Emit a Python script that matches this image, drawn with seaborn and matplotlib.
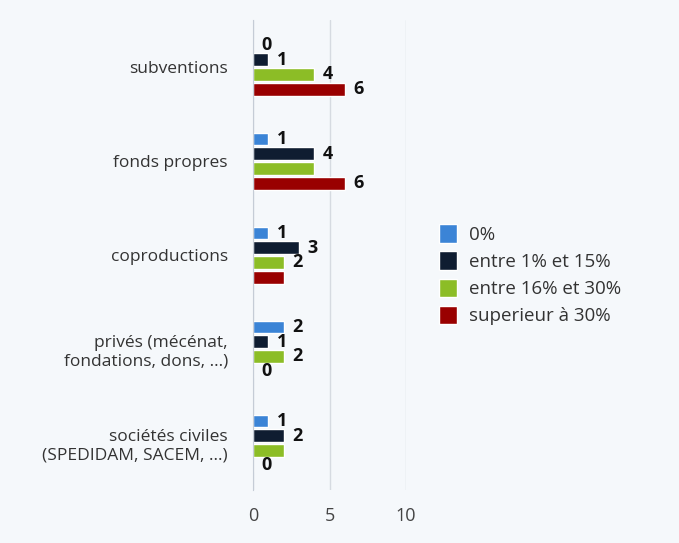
import matplotlib
matplotlib.use("Agg")
import matplotlib.pyplot as plt
import pandas as pd
import seaborn as sns

categories = ["subventions", "fonds propres", "coproductions",
              "privés (mécénat,\nfondations, dons, ...)",
              "sociétés civiles\n(SPEDIDAM, SACEM, ...)"]
series = ["0%", "entre 1% et 15%", "entre 16% et 30%", "superieur à 30%"]
val_0 = [0, 1, 1, 2, 1]
val_1_15 = [1, 4, 3, 1, 2]
val_16_30 = [4, 4, 2, 2, 2]
val_30plus = [6, 6, 2, 0, 0]
# value labels the original chart did not show (overlapping)
hidden = [(2, 1), (3, 2), (2, 4)]  # (series index, category index)
colors = ["#3b84d6", "#0f1d31", "#8cbd26", "#990000"]

rows = []
for s, vals in zip(series, [val_0, val_1_15, val_16_30, val_30plus]):
    for c, v in zip(categories, vals):
        rows.append({"categorie": c, "serie": s, "valeur": v})
df = pd.DataFrame(rows)

sns.set_style("white")
plt.rcParams["font.family"] = ["Open Sans", "DejaVu Sans"]
bg = "#f5f8fb"

fig = plt.figure(figsize=(6.79, 5.43), dpi=100, facecolor=bg)
ax = fig.add_axes([0.3726, 0.0976, 0.2254, 0.8655], facecolor=bg)

sns.barplot(data=df, x="valeur", y="categorie", hue="serie", order=categories,
            hue_order=series, palette=colors, saturation=1, width=0.63, gap=0.15,
            orient="h", ax=ax)

for i, cont in enumerate(ax.containers):
    vals = [val_0, val_1_15, val_16_30, val_30plus][i]
    labels = ["" if (i, j) in hidden else str(v) for j, v in enumerate(vals)]
    ax.bar_label(cont, labels=labels, padding=6, fontsize=13, fontweight="bold",
                 color="#111111")

ax.set_xlim(0, 10)
ax.set_ylim(4.5, -0.5)
ax.set_xticks([0, 5, 10])
ax.set_yticks(range(len(categories)))
ax.set_yticklabels(categories, fontsize=12.5, color="#333333", linespacing=1.2)
ax.set_yticks([k - 0.5 for k in range(len(categories) + 1)], minor=True)
ax.tick_params(axis="y", which="major", length=0, pad=18)
ax.tick_params(axis="y", which="minor", length=9, width=1, color="#c5ccd6")
ax.tick_params(axis="x", length=0, pad=12, labelsize=13, labelcolor="#444444")
ax.grid(axis="x", color="#d6dbe1", linewidth=1)
ax.set_axisbelow(True)
ax.set_xlabel("")
ax.set_ylabel("")
for side in ["top", "right", "bottom"]:
    ax.spines[side].set_visible(False)
ax.spines["left"].set_color("#c5ccd6")

handles, labels = ax.get_legend_handles_labels()
ax.get_legend().remove()
fig.legend(handles, labels, loc="center left", bbox_to_anchor=(0.621, 0.494),
           frameon=False, fontsize=13.5, handlelength=1.0, handleheight=1.15,
           labelspacing=0.4, handletextpad=0.6, labelcolor="#333333")

fig.savefig("out.png", dpi=100, facecolor=bg)
